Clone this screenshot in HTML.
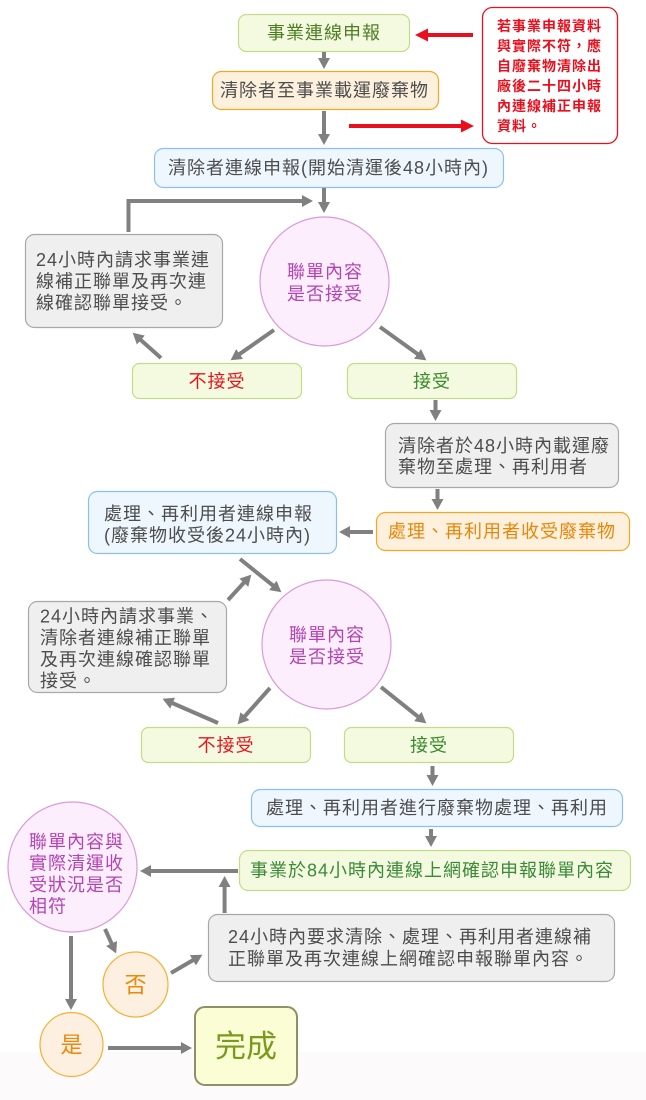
<!DOCTYPE html>
<html>
<head>
<meta charset="utf-8">
<style>
  html,body{margin:0;padding:0;background:#fff;}
  body{width:646px;height:1100px;overflow:hidden;}
  svg{display:block;}
  text{font-family:"Liberation Sans","Noto Sans CJK TC",sans-serif;}
  .t{font-size:18px;letter-spacing:1px;dominant-baseline:central;}
  .gray{fill:#4d4d4d;}
  .c{text-anchor:middle;}
</style>
</head>
<body>
<svg width="646" height="1100" viewBox="0 0 646 1100" xmlns="http://www.w3.org/2000/svg">
  <defs>
    <marker id="g" viewBox="0 0 11 12" refX="0.5" refY="6" markerWidth="11" markerHeight="12" markerUnits="userSpaceOnUse" orient="auto">
      <path d="M0,0L11,6L0,12z" fill="#808080"/>
    </marker>
    <marker id="r" viewBox="0 0 13 13" refX="0.5" refY="6.5" markerWidth="13" markerHeight="13" markerUnits="userSpaceOnUse" orient="auto">
      <path d="M0,0L13,6.5L0,13z" fill="#e8101e"/>
    </marker>
  </defs>

  <!-- background bottom band -->
  <rect x="0" y="1052" width="646" height="48" fill="#fdfafb"/>

  <!-- ===== Boxes ===== -->
  <rect x="238.5" y="14.5" width="171" height="37" rx="8" fill="#f4fadf" stroke="#c2dc88" stroke-width="1.2"/>
  <text class="t c" x="324" y="33" fill="#4f7d24">事業連線申報</text>

  <rect x="212.5" y="71.5" width="226" height="38" rx="9" fill="#fdf1de" stroke="#f5a623" stroke-width="1.2"/>
  <text class="t gray" x="220" y="90.5">清除者至事業載運廢棄物</text>

  <rect x="482.5" y="7.5" width="135" height="136" rx="10" fill="#ffffff" stroke="#e8101e" stroke-width="1.3"/>
  <g font-size="14" font-weight="bold" fill="#e8101e" style="letter-spacing:1px;dominant-baseline:central">
    <text x="497" y="26">若事業申報資料</text>
    <text x="497" y="46">與實際不符，應</text>
    <text x="497" y="66">自廢棄物清除出</text>
    <text x="497" y="86">廠後二十四小時</text>
    <text x="497" y="106">內連線補正申報</text>
    <text x="497" y="126">資料。</text>
  </g>

  <rect x="154.5" y="148.5" width="349" height="39" rx="9" fill="#eef6fe" stroke="#8cc0ec" stroke-width="1.2"/>
  <text class="t gray" x="168" y="168">清除者連線申報(開始清運後48小時內)</text>

  <ellipse cx="324.5" cy="281.5" rx="64.5" ry="64.5" fill="#fdeefd" stroke="#d99ad9" stroke-width="1.2"/>
  <text class="t c" x="325" y="272" fill="#b443b4">聯單內容</text>
  <text class="t c" x="325" y="294" fill="#b443b4">是否接受</text>

  <rect x="25.5" y="234.5" width="197" height="93" rx="9" fill="#efefef" stroke="#a8a8a8" stroke-width="1.2"/>
  <g class="gray">
    <text class="t" x="36" y="260">24小時內請求事業連</text>
    <text class="t" x="36" y="281.5">線補正聯單及再次連</text>
    <text class="t" x="36" y="303">線確認聯單接受。</text>
  </g>

  <rect x="132.5" y="363.5" width="169" height="35" rx="7" fill="#f4fadf" stroke="#c2dc88" stroke-width="1.2"/>
  <text class="t c" x="217" y="381.5" fill="#e8141e">不接受</text>
  <rect x="347.5" y="363.5" width="169" height="35" rx="7" fill="#f4fadf" stroke="#c2dc88" stroke-width="1.2"/>
  <text class="t c" x="432" y="381.5" fill="#3a8a2e">接受</text>

  <rect x="385.5" y="423.5" width="233" height="64" rx="9" fill="#efefef" stroke="#a8a8a8" stroke-width="1.2"/>
  <g class="gray">
    <text class="t" x="398" y="446">清除者於48小時內載運廢</text>
    <text class="t" x="398" y="467">棄物至處理、再利用者</text>
  </g>

  <rect x="376.5" y="512.5" width="253" height="38" rx="9" fill="#fdf1de" stroke="#f5a623" stroke-width="1.2"/>
  <text class="t" x="388" y="531.5" fill="#e8860a">處理、再利用者收受廢棄物</text>

  <rect x="88.5" y="491.5" width="248" height="62" rx="9" fill="#eef6fe" stroke="#8cc0ec" stroke-width="1.2"/>
  <g class="gray">
    <text class="t" x="104" y="514">處理、再利用者連線申報</text>
    <text class="t" x="104" y="535.5">(廢棄物收受後24小時內)</text>
  </g>

  <ellipse cx="326.5" cy="644.5" rx="64.5" ry="64.5" fill="#fdeefd" stroke="#d99ad9" stroke-width="1.2"/>
  <text class="t c" x="327" y="635" fill="#b443b4">聯單內容</text>
  <text class="t c" x="327" y="657" fill="#b443b4">是否接受</text>

  <rect x="28.5" y="601.5" width="198" height="91" rx="9" fill="#efefef" stroke="#a8a8a8" stroke-width="1.2"/>
  <g class="gray">
    <text class="t" x="40" y="616.5">24小時內請求事業、</text>
    <text class="t" x="40" y="638">清除者連線補正聯單</text>
    <text class="t" x="40" y="659.5">及再次連線確認聯單</text>
    <text class="t" x="40" y="681">接受。</text>
  </g>

  <rect x="141.5" y="727.5" width="169" height="35" rx="7" fill="#f4fadf" stroke="#c2dc88" stroke-width="1.2"/>
  <text class="t c" x="226" y="745.5" fill="#e8141e">不接受</text>
  <rect x="344.5" y="727.5" width="169" height="35" rx="7" fill="#f4fadf" stroke="#c2dc88" stroke-width="1.2"/>
  <text class="t c" x="429" y="745.5" fill="#3a8a2e">接受</text>

  <rect x="251.5" y="789.5" width="371" height="37" rx="9" fill="#eef6fe" stroke="#8cc0ec" stroke-width="1.2"/>
  <text class="t gray" x="266" y="808">處理、再利用者進行廢棄物處理、再利用</text>

  <rect x="239.5" y="850.5" width="391" height="40" rx="9" fill="#f4fadf" stroke="#c2dc88" stroke-width="1.2"/>
  <text class="t" x="250" y="870.5" fill="#3a8a3a">事業於84小時內連線上網確認申報聯單內容</text>

  <ellipse cx="72.5" cy="867" rx="64.5" ry="65" fill="#fdeefd" stroke="#d99ad9" stroke-width="1.2"/>
  <g fill="#b443b4">
    <text class="t" x="29" y="842">聯單內容與</text>
    <text class="t" x="29" y="863.5">實際清運收</text>
    <text class="t" x="29" y="885">受狀況是否</text>
    <text class="t" x="29" y="906.5">相符</text>
  </g>

  <rect x="208.5" y="914.5" width="406" height="67" rx="9" fill="#efefef" stroke="#a8a8a8" stroke-width="1.2"/>
  <g class="gray">
    <text class="t" x="228" y="937">24小時內要求清除、處理、再利用者連線補</text>
    <text class="t" x="228" y="959">正聯單及再次連線上網確認申報聯單內容。</text>
  </g>

  <ellipse cx="135.5" cy="984.5" rx="32.5" ry="32.5" fill="#fdf0e0" stroke="#f5b030" stroke-width="1.2"/>
  <text x="135.5" y="985" text-anchor="middle" font-size="22" fill="#e8890c" style="dominant-baseline:central">否</text>

  <ellipse cx="71.5" cy="1044.5" rx="31.5" ry="32" fill="#fdf0e0" stroke="#f5b030" stroke-width="1.2"/>
  <text x="71.5" y="1045" text-anchor="middle" font-size="22" fill="#e8890c" style="dominant-baseline:central">是</text>

  <rect x="195" y="1007" width="102" height="78" rx="10" fill="#fbfdd5" stroke="#8f9068" stroke-width="2"/>
  <text x="246" y="1046.5" text-anchor="middle" font-size="31" fill="#7a9a1e" style="dominant-baseline:central">完成</text>

  <!-- ===== Arrows ===== -->
  <g stroke="#808080" stroke-width="4" fill="none" marker-end="url(#g)">
    <line x1="324" y1="52" x2="324" y2="58.5"/>
    <line x1="324" y1="111" x2="324" y2="134.5"/>
    <line x1="324" y1="188" x2="324" y2="202.5"/>
    <polyline points="128.5,232 128.5,201 302.5,201" stroke-linejoin="miter"/>
    <line x1="274" y1="330" x2="239.2" y2="354.3"/>
    <line x1="161" y1="358" x2="140.5" y2="339.7"/>
    <line x1="380" y1="327" x2="417.9" y2="354.2"/>
    <line x1="435.5" y1="400" x2="435.5" y2="410.5"/>
    <line x1="437.5" y1="489" x2="437.5" y2="499.5"/>
    <line x1="373" y1="532" x2="349.5" y2="532"/>
    <line x1="240" y1="559" x2="273.2" y2="585.7"/>
    <line x1="228" y1="600" x2="244.2" y2="582.4"/>
    <line x1="270" y1="688" x2="244.6" y2="716.5"/>
    <line x1="218" y1="723" x2="172.2" y2="703"/>
    <line x1="381" y1="687" x2="418.2" y2="716.8"/>
    <line x1="432.5" y1="766" x2="432.5" y2="775.5"/>
    <line x1="431" y1="829" x2="431" y2="836.5"/>
    <line x1="238" y1="871" x2="150.5" y2="871"/>
    <line x1="224.6" y1="913" x2="224.6" y2="886.5"/>
    <line x1="105" y1="929" x2="111.8" y2="943.9"/>
    <line x1="71" y1="936" x2="71" y2="999.5"/>
    <line x1="171" y1="973" x2="193.3" y2="960"/>
    <line x1="108" y1="1048" x2="181.5" y2="1048"/>
  </g>

  <g stroke="#e8101e" stroke-width="4" fill="none" marker-end="url(#r)">
    <line x1="473" y1="35" x2="427.5" y2="35"/>
    <line x1="349" y1="126" x2="461.5" y2="126"/>
  </g>
</svg>
</body>
</html>
